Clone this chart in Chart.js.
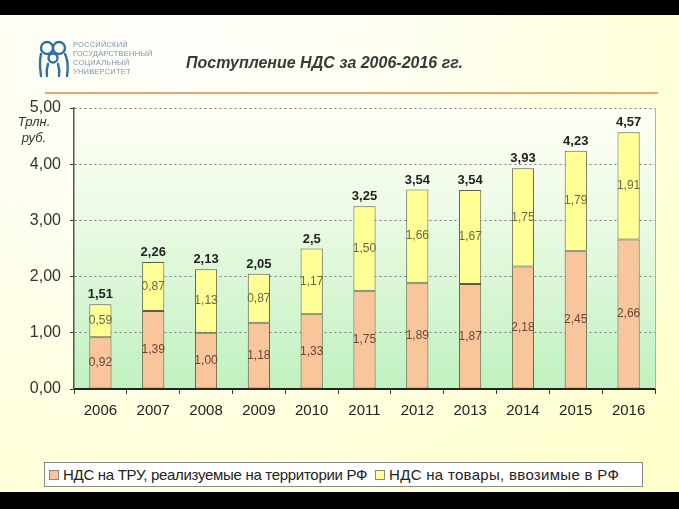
<!DOCTYPE html>
<html lang="ru">
<head>
    <meta charset="UTF-8">
    <title>Поступление НДС за 2006-2016 гг.</title>
    <style>
        body {
            margin: 0;
            background: #000;
            font-family: Arial, "Liberation Sans", sans-serif;
            width: 679px;
            height: 509px;
            overflow: hidden;
            position: relative;
        }
        .slide {
            position: absolute;
            left: 0;
            top: 15px;
            width: 679px;
            height: 477px;
            background: radial-gradient(ellipse at 25% 5%, #fefefa 0%, #fefef0 35%, #ffffd6 75%, #ffffc8 100%);
        }
        #chartBox {
            position: absolute;
            left: 0;
            top: 0;
        }
        .title {
            position: absolute;
            left: 186px;
            top: 54px;
            font-size: 16px;
            font-weight: bold;
            font-style: italic;
            color: #3a3a3a;
            white-space: nowrap;
        }
        .rule {
            position: absolute;
            left: 45px;
            top: 92px;
            width: 613px;
            height: 2px;
            background: #eda868;
        }
        .unit {
            position: absolute;
            left: 14px;
            top: 114px;
            width: 40px;
            text-align: center;
            font-size: 13px;
            font-style: italic;
            color: #333;
            line-height: 16px;
        }
        .logo {
            position: absolute;
            left: 38px;
            top: 40px;
        }
        .logo-text {
            position: absolute;
            left: 73px;
            top: 40px;
            font-size: 7.5px;
            line-height: 9px;
            color: #7d95ab;
            letter-spacing: 0.2px;
        }
        .legend {
            position: absolute;
            left: 44px;
            top: 462px;
            width: 597px;
            height: 23px;
            border: 1px solid #8a8a8a;
            background: #fff;
            display: flex;
            align-items: center;
            font-size: 15px;
            color: #222;
            white-space: nowrap;
        }
        .legend span.mark {
            display: inline-block;
            width: 8px;
            height: 8px;
            border: 1px solid #8a8a7a;
            margin: 0 4px 0 4px;
        }
        .legend .t1 { letter-spacing: -0.3px; }
        .legend .t2 { letter-spacing: 0.3px; }
    </style>
    <script src="https://cdn.jsdelivr.net/npm/chart.js"></script>
</head>
<body>
    <div class="slide"></div>
    <canvas id="chartBox" width="679" height="509"></canvas>

    <svg class="logo" width="32" height="38" viewBox="0 0 32 38">
        <g fill="none" stroke="#2f70a2" stroke-width="2.4" stroke-linecap="round">
            <circle cx="9" cy="8" r="6"/>
            <circle cx="21" cy="8" r="6"/>
            <circle cx="15" cy="18" r="4.5"/>
            <path d="M3 14 Q1 22 3 36"/>
            <path d="M27 14 Q31 22 29 36"/>
            <path d="M10 24 Q8 30 9 36"/>
            <path d="M20 24 Q22 30 21 36"/>
        </g>
    </svg>
    <div class="logo-text">РОССИЙСКИЙ<br>ГОСУДАРСТВЕННЫЙ<br>СОЦИАЛЬНЫЙ<br>УНИВЕРСИТЕТ</div>

    <div class="title">Поступление НДС за 2006-2016 гг.</div>
    <div class="rule"></div>
    <div class="unit">Трлн.<br>руб.</div>

    <div class="legend">
        <span class="mark" style="background:#f9c59b"></span><span class="t1">НДС на ТРУ, реализуемые на территории РФ</span>
        <span class="mark" style="background:#ffff96; margin-left:8px"></span><span class="t2">НДС на товары, ввозимые в РФ</span>
    </div>

    <script>
        // Data (trillion rubles)
        const years = ['2006', '2007', '2008', '2009', '2010', '2011', '2012', '2013', '2014', '2015', '2016'];
        const domesticVat = [0.92, 1.39, 1.00, 1.18, 1.33, 1.75, 1.89, 1.87, 2.18, 2.45, 2.66];
        const importVat = [0.59, 0.87, 1.13, 0.87, 1.17, 1.50, 1.66, 1.67, 1.75, 1.79, 1.91];
        const totals = [1.51, 2.26, 2.13, 2.05, 2.5, 3.25, 3.54, 3.54, 3.93, 4.23, 4.57];
        const yTicks = [0, 1, 2, 3, 4, 5];

        const comma = v => String(v).replace('.', ',');

        // plot background + right border
        const plotBackground = {
            id: 'plotBackground',
            beforeDraw(chart) {
                const { ctx, chartArea: a } = chart;
                const g = ctx.createLinearGradient(0, a.top, 0, a.bottom);
                g.addColorStop(0, '#fffff6');
                g.addColorStop(0.35, '#eefbe6');
                g.addColorStop(1, '#c0f1c0');
                ctx.save();
                ctx.fillStyle = g;
                ctx.fillRect(a.left, a.top, a.right - a.left, a.bottom - a.top);
                ctx.restore();
            },
            afterDraw(chart) {
                const { ctx, chartArea: a } = chart;
                ctx.save();
                ctx.strokeStyle = '#b0b0a8';
                ctx.lineWidth = 1;
                ctx.beginPath();
                ctx.moveTo(a.right + 0.5, a.top);
                ctx.lineTo(a.right + 0.5, a.bottom);
                ctx.stroke();
                ctx.restore();
            }
        };

        // value labels inside segments and totals above bars
        const barLabels = {
            id: 'barLabels',
            afterDatasetsDraw(chart) {
                const ctx = chart.ctx;
                ctx.save();
                ctx.textAlign = 'center';
                ctx.textBaseline = 'middle';
                const colors = ['#6a4636', '#6a6a48'];
                chart.data.datasets.forEach((ds, di) => {
                    const meta = chart.getDatasetMeta(di);
                    ctx.font = '12px Arial';
                    ctx.fillStyle = colors[di];
                    meta.data.forEach((bar, i) => {
                        const mid = (bar.y + bar.base) / 2;
                        ctx.fillText(ds.data[i].toFixed(2).replace('.', ','), bar.x, mid);
                    });
                });
                const topMeta = chart.getDatasetMeta(chart.data.datasets.length - 1);
                ctx.font = 'bold 13px Arial';
                ctx.fillStyle = '#222';
                ctx.textBaseline = 'bottom';
                topMeta.data.forEach((bar, i) => {
                    ctx.fillText(comma(totals[i]), bar.x, bar.y - 3);
                });
                ctx.restore();
            }
        };

        new Chart(document.getElementById('chartBox'), {
            type: 'bar',
            data: {
                labels: years,
                datasets: [
                    {
                        label: 'НДС на ТРУ, реализуемые на территории РФ',
                        data: domesticVat,
                        backgroundColor: '#f9c59b',
                        borderColor: '#5f5d48',
                        borderWidth: 1,
                        borderSkipped: false
                    },
                    {
                        label: 'НДС на товары, ввозимые в РФ',
                        data: importVat,
                        backgroundColor: '#ffff96',
                        borderColor: '#5f5d48',
                        borderWidth: 1,
                        borderSkipped: false
                    }
                ]
            },
            options: {
                responsive: false,
                animation: false,
                layout: {
                    padding: { left: 0, top: 108, right: 24, bottom: 80 }
                },
                datasets: {
                    bar: { categoryPercentage: 1, barPercentage: 0.42 }
                },
                plugins: {
                    legend: { display: false },
                    tooltip: { enabled: false }
                },
                scales: {
                    x: {
                        stacked: true,
                        afterFit(scale) { scale.height = 40; },
                        grid: {
                            drawOnChartArea: false,
                            drawTicks: true,
                            tickLength: 5,
                            tickColor: '#333',
                            offset: true
                        },
                        border: { color: '#222', width: 2 },
                        ticks: {
                            padding: 8,
                            color: '#222',
                            font: { family: 'Arial', size: 15 }
                        }
                    },
                    y: {
                        stacked: true,
                        min: 0,
                        max: 5,
                        afterFit(scale) { scale.width = 74; },
                        afterBuildTicks(scale) {
                            scale.ticks = yTicks.map(v => ({ value: v }));
                        },
                        grid: {
                            color: '#7a7a7a',
                            lineWidth: 1,
                            tickLength: 4,
                            tickColor: '#333',
                            tickBorderDash: []
                        },
                        border: { color: '#555', width: 1.5, dash: [2, 3] },
                        ticks: {
                            padding: 9,
                            color: '#333',
                            font: { family: 'Arial', size: 16 },
                            callback: v => v.toFixed(2).replace('.', ',')
                        }
                    }
                }
            },
            plugins: [plotBackground, barLabels]
        });
    </script>
</body>
</html>
